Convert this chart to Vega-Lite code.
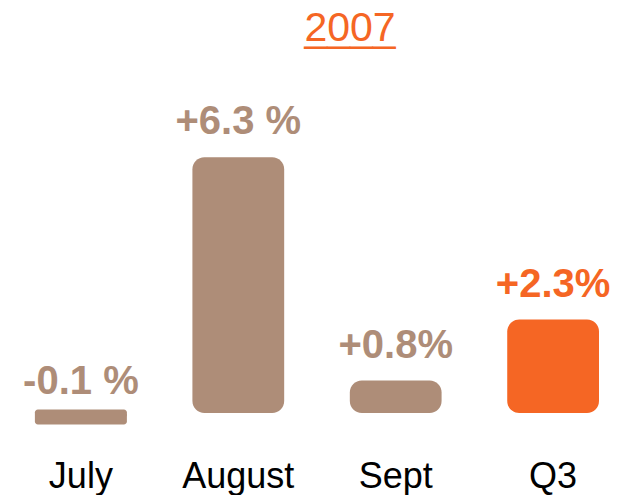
{
  "$schema": "https://vega.github.io/schema/vega-lite/v6.json",
  "width": 628,
  "height": 440,
  "padding": {"top": 0, "left": 0, "right": 0, "bottom": 55},
  "autosize": "none",
  "background": "white",
  "config": {"view": {"stroke": null}, "font": "Liberation Sans"},
  "title": {
    "text": "2007",
    "subtitle": "____",
    "orient": "top",
    "anchor": "middle",
    "frame": "group",
    "offset": -50,
    "dx": 36,
    "font": "Liberation Sans",
    "fontSize": 41,
    "fontWeight": "normal",
    "color": "#F56624",
    "subtitleFont": "Liberation Sans",
    "subtitleFontSize": 41,
    "subtitleColor": "#F56624",
    "subtitlePadding": -41
  },
  "data": {
    "values": [
      {"period": "July", "value": -0.1, "label": "-0.1 %"},
      {"period": "August", "value": 6.3, "label": "+6.3 %"},
      {"period": "Sept", "value": 0.8, "label": "+0.8%"},
      {"period": "Q3", "value": 2.3, "label": "+2.3%"}
    ]
  },
  "encoding": {
    "x": {
      "field": "period",
      "type": "nominal",
      "sort": null,
      "scale": {"range": [35, 599], "paddingInner": 0.417, "paddingOuter": 0},
      "axis": {
        "title": null,
        "domain": false,
        "ticks": false,
        "tickSize": 0,
        "labelAngle": 0,
        "labelFont": "Liberation Sans",
        "labelFontSize": 36,
        "labelColor": "#000000",
        "labelBaseline": "alphabetic",
        "labelPadding": 47
      }
    },
    "color": {
      "field": "period",
      "type": "nominal",
      "scale": {"domain": ["July", "August", "Sept", "Q3"], "range": ["#AE8D78", "#AE8D78", "#AE8D78", "#F56624"]},
      "legend": null
    }
  },
  "layer": [
    {
      "mark": {"type": "bar", "cornerRadius": 12},
      "encoding": {
        "y": {
          "field": "value",
          "type": "quantitative",
          "scale": {"domain": [-0.665, 10.17], "nice": false, "zero": false},
          "axis": null
        },
        "y2": {"datum": 0}
      }
    },
    {
      "transform": [{"filter": "datum.value < 0"}],
      "mark": {"type": "tick", "thickness": 15, "size": 92, "cornerRadius": 3, "opacity": 1},
      "encoding": {
        "y": {"field": "value", "type": "quantitative"}
      }
    },
    {
      "mark": {"type": "text", "align": "center", "baseline": "alphabetic", "dy": -23, "font": "Liberation Sans", "fontSize": 40, "fontWeight": "bold"},
      "encoding": {
        "y": {"field": "value", "type": "quantitative"},
        "text": {"field": "label"}
      }
    }
  ]
}
